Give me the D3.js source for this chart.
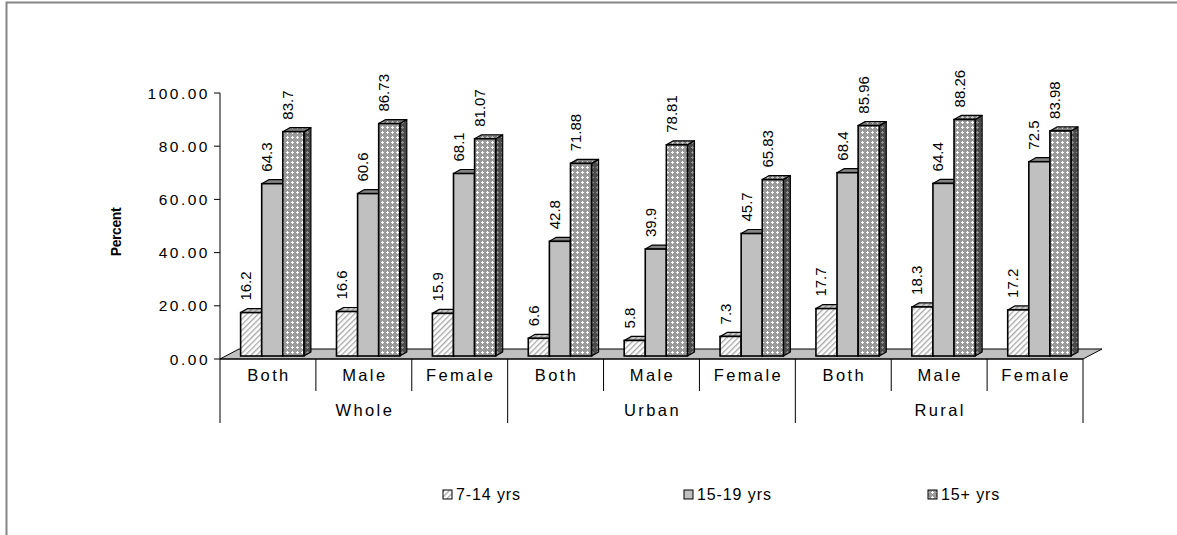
<!DOCTYPE html>
<html>
<head>
<meta charset="utf-8">
<script src="https://cdn.jsdelivr.net/npm/d3@7"></script>
<style>
  html, body { margin: 0; padding: 0; background: #fff; }
  svg { display: block; font-family: Arial, "Liberation Sans", sans-serif; }
</style>
</head>
<body>
<svg id="chart" width="1177" height="535"></svg>
<script>
// Literacy rate by area, sex and age group
const areas = ["Whole", "Urban", "Rural"];
const sexes = ["Both", "Male", "Female"];
const seriesNames = ["7-14 yrs", "15-19 yrs", "15+ yrs"];
const age7to14 = [16.2, 16.6, 15.9, 6.6, 5.8, 7.3, 17.7, 18.3, 17.2];
const age15to19 = [64.3, 60.6, 68.1, 42.8, 39.9, 45.7, 68.4, 64.4, 72.5];
const age15plus = [83.7, 86.73, 81.07, 71.88, 78.81, 65.83, 85.96, 88.26, 83.98];
const valueLabels7to14 = ["16.2", "16.6", "15.9", "6.6", "5.8", "7.3", "17.7", "18.3", "17.2"];
const valueLabels15to19 = ["64.3", "60.6", "68.1", "42.8", "39.9", "45.7", "68.4", "64.4", "72.5"];
const valueLabels15plus = ["83.7", "86.73", "81.07", "71.88", "78.81", "65.83", "85.96", "88.26", "83.98"];
const yTicks = [0, 20, 40, 60, 80, 100];
const yTickLabels = ["0.00", "20.00", "40.00", "60.00", "80.00", "100.00"];

const svg = d3.select("#chart");

// ---- patterns ----
const defs = svg.append("defs");
function hatch(id, bg, line) {
  const p = defs.append("pattern").attr("id", id).attr("patternUnits", "userSpaceOnUse")
    .attr("width", 4).attr("height", 4).attr("patternTransform", "rotate(45)");
  p.append("rect").attr("width", 4).attr("height", 4).attr("fill", bg);
  p.append("rect").attr("x", 0).attr("width", 1.3).attr("height", 4).attr("fill", line);
}
function crosses(id, bg, fg) {
  const p = defs.append("pattern").attr("id", id).attr("patternUnits", "userSpaceOnUse")
    .attr("width", 5).attr("height", 5);
  p.append("rect").attr("width", 5).attr("height", 5).attr("fill", bg);
  p.append("rect").attr("x", 1).attr("y", 2).attr("width", 3).attr("height", 1).attr("fill", fg);
  p.append("rect").attr("x", 2).attr("y", 1).attr("width", 1).attr("height", 3).attr("fill", fg);
}
hatch("hatchFront", "#ffffff", "#a6a6a6");
hatch("hatchTop", "#c8c8c8", "#8a8a8a");
crosses("crossFront", "#9a9a9a", "#ffffff");
crosses("crossTop", "#7a7a7a", "#c8c8c8");
crosses("crossSide", "#4a4a4a", "#8e8e8e");

const seriesStyle = [
  { front: "url(#hatchFront)", top: "url(#hatchTop)", side: "url(#hatchTop)", legend: "url(#hatchFront)" },
  { front: "#c0c0c0", top: "#858585", side: "#858585", legend: "#c0c0c0" },
  { front: "url(#crossFront)", top: "url(#crossTop)", side: "url(#crossSide)", legend: "url(#crossFront)" }
];

// ---- scales ----
const categories = d3.range(areas.length * sexes.length);
const x = d3.scaleBand().domain(categories).range([220, 1083]).padding(0);
const yAxisScale = d3.scaleLinear().domain([0, 100]).range([359, 93]);
// bars stand slightly behind the front floor edge
const yBar = d3.scaleLinear().domain([0, 100]).range([356, 88]);

const bw = x.bandwidth();
const barW = bw * 0.22;
const groupOffset = bw * 0.215;
const depthX = 7, depthY = 4;       // bar top/side projection
const floorDX = 19, floorDY = 10;   // floor projection

// ---- frame ----
svg.append("path").attr("d", "M6.5,535 V2.5 H1177").attr("fill", "none")
  .attr("stroke", "#858585").attr("stroke-width", 2);

// ---- floor ----
const x0 = x.range()[0], x1 = x.range()[1];
const yFloor = yAxisScale(0);
svg.append("path")
  .attr("d", `M${x0},${yFloor} L${x0 + floorDX},${yFloor - floorDY} L${x1 + floorDX},${yFloor - floorDY} L${x1},${yFloor} Z`)
  .attr("fill", "#c0c0c0").attr("stroke", "#000").attr("stroke-width", 1);

// ---- y axis ----
svg.append("line").attr("x1", x0).attr("x2", x0).attr("y1", yAxisScale(100)).attr("y2", 423)
  .attr("stroke", "#000").attr("stroke-width", 1);
const yt = svg.append("g");
yt.selectAll("line").data(yTicks).join("line")
  .attr("x1", x0 - 6).attr("x2", x0).attr("y1", d => yAxisScale(d)).attr("y2", d => yAxisScale(d))
  .attr("stroke", "#000");
yt.selectAll("text").data(yTicks).join("text")
  .attr("x", x0 - 10).attr("y", d => yAxisScale(d)).attr("dy", "0.36em")
  .attr("text-anchor", "end").attr("font-size", 15.5).attr("letter-spacing", 2.5)
  .text((d, i) => yTickLabels[i]);

svg.append("text")
  .attr("transform", `translate(121,232) rotate(-90)`)
  .attr("text-anchor", "middle").attr("font-size", 14).attr("font-weight", "bold")
  .attr("letter-spacing", -0.4)
  .text("Percent");

// ---- category axis ----
svg.append("line").attr("x1", x0).attr("x2", x1).attr("y1", yFloor).attr("y2", yFloor)
  .attr("stroke", "#000");
const cat = svg.append("g");
categories.forEach(i => {
  const edge = x(i) + bw;
  const isGroupEdge = (i + 1) % sexes.length === 0;
  cat.append("line").attr("x1", edge).attr("x2", edge).attr("y1", yFloor)
    .attr("y2", isGroupEdge ? 423 : 391).attr("stroke", "#000");
  cat.append("text").attr("x", x(i) + bw / 2 + 1).attr("y", 381)
    .attr("text-anchor", "middle").attr("font-size", 16.5).attr("letter-spacing", 2.4)
    .text(sexes[i % sexes.length]);
});
areas.forEach((a, g) => {
  const cx = (x(g * 3) + x(g * 3 + 2) + bw) / 2 + 1;
  cat.append("text").attr("x", cx).attr("y", 416)
    .attr("text-anchor", "middle").attr("font-size", 16.5).attr("letter-spacing", 2.4)
    .text(a);
});

// ---- bars ----
const seriesValues = [age7to14, age15to19, age15plus];
const seriesLabels = [valueLabels7to14, valueLabels15to19, valueLabels15plus];
const barsG = svg.append("g");
categories.forEach(i => {
  seriesValues.forEach((vals, s) => {
    const v = vals[i];
    const bx = x(i) + groupOffset + s * barW;
    const top = yBar(v), base = yBar(0);
    const st = seriesStyle[s];
    // side face
    barsG.append("path")
      .attr("d", `M${bx + barW},${base} L${bx + barW + depthX},${base - depthY} L${bx + barW + depthX},${top - depthY} L${bx + barW},${top} Z`)
      .attr("fill", st.side).attr("stroke", "#000").attr("stroke-width", 1.2).attr("stroke-linejoin", "round");
    // top face
    barsG.append("path")
      .attr("d", `M${bx},${top} L${bx + depthX},${top - depthY} L${bx + barW + depthX},${top - depthY} L${bx + barW},${top} Z`)
      .attr("fill", st.top).attr("stroke", "#000").attr("stroke-width", 1.2).attr("stroke-linejoin", "round");
    // front face
    barsG.append("rect")
      .attr("x", bx).attr("y", top).attr("width", barW).attr("height", base - top)
      .attr("fill", st.front).attr("stroke", "#000").attr("stroke-width", 1.6);
  });
});

// ---- value labels ----
const labelsG = svg.append("g");
categories.forEach(i => {
  seriesValues.forEach((vals, s) => {
    const v = vals[i];
    const cx = x(i) + groupOffset + s * barW + barW / 2;
    const cy = yBar(v) - 12;
    labelsG.append("text")
      .attr("transform", `translate(${cx},${cy}) rotate(-90)`)
      .attr("text-anchor", "start").attr("font-size", 15)
      .text(seriesLabels[s][i]);
  });
});

// ---- legend ----
const legendX = [443, 684, 928];
const legend = svg.append("g");
seriesNames.forEach((n, s) => {
  legend.append("rect").attr("x", legendX[s]).attr("y", 490).attr("width", 9).attr("height", 9)
    .attr("fill", seriesStyle[s].legend).attr("stroke", "#000").attr("stroke-width", 1);
  legend.append("text").attr("x", legendX[s] + 13).attr("y", 499.5)
    .attr("font-size", 16).attr("letter-spacing", 0.9).text(n);
});
</script>
</body>
</html>
